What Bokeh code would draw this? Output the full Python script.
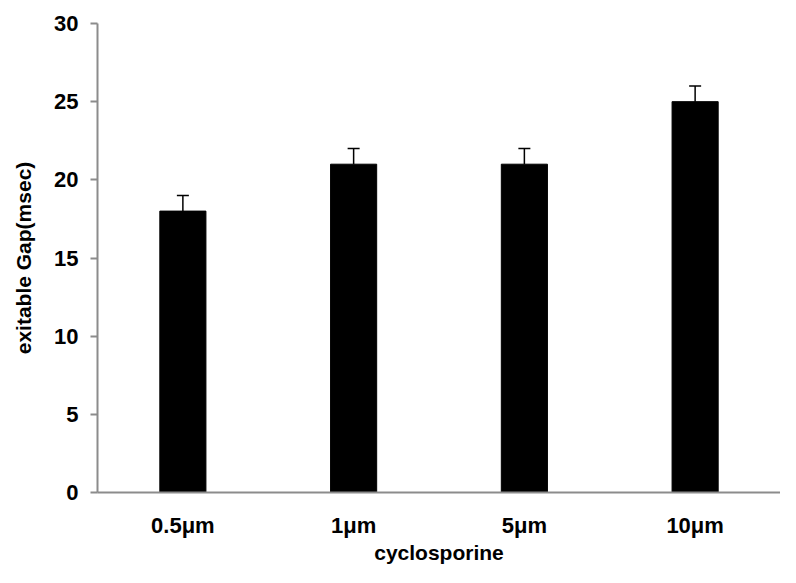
from bokeh.plotting import figure
from bokeh.models import ColumnDataSource, Whisker, TeeHead, FixedTicker
from bokeh.embed import file_html
from bokeh.resources import INLINE

categories = ["0.5μm", "1μm", "5μm", "10μm"]
values = [18, 21, 21, 25]
errors = [1, 1, 1, 1]

src = ColumnDataSource(dict(x=categories, top=values,
                            upper=[v + e for v, e in zip(values, errors)]))

p = figure(x_range=categories, y_range=(0, 30), width=780, height=567,
           output_backend="svg", toolbar_location=None,
           min_border_left=97, min_border_right=0, min_border_top=23, min_border_bottom=75)
p.vbar(x="x", top="top", width=0.27, source=src, color="black")
w = Whisker(base="x", lower="top", upper="upper", source=src,
            line_color="black", line_width=1.5,
            upper_head=TeeHead(size=12, line_color="black", line_width=1.5), lower_head=None)
p.add_layout(w)

p.outline_line_color = None
p.xgrid.grid_line_color = None
p.ygrid.grid_line_color = None
p.yaxis.ticker = FixedTicker(ticks=[0, 5, 10, 15, 20, 25, 30])
for ax in (p.xaxis[0], p.yaxis[0]):
    ax.axis_line_color = "#8c8c8c"
    ax.axis_line_width = 2
    ax.major_tick_line_color = "#8c8c8c"
    ax.major_tick_line_width = 2
    ax.minor_tick_line_color = None
    ax.major_label_text_font = "Liberation Sans"
    ax.major_label_text_font_style = "bold"
    ax.major_label_text_font_size = "22px"
    ax.major_label_text_color = "black"
    ax.axis_label_text_font = "Liberation Sans"
    ax.axis_label_text_font_style = "bold"
    ax.axis_label_text_font_size = "21px"
    ax.axis_label_text_color = "black"
p.yaxis.major_tick_out = 7
p.yaxis.major_tick_in = 0
p.xaxis.major_tick_line_color = None
p.xaxis.major_label_standoff = 14
p.xaxis.axis_label = "cyclosporine"
p.xaxis.axis_label_standoff = 0
p.yaxis.axis_label = "exitable Gap(msec)"
p.yaxis.axis_label_standoff = 16
p.yaxis.major_label_standoff = 12

open("out.html", "w").write(file_html(p, INLINE))
